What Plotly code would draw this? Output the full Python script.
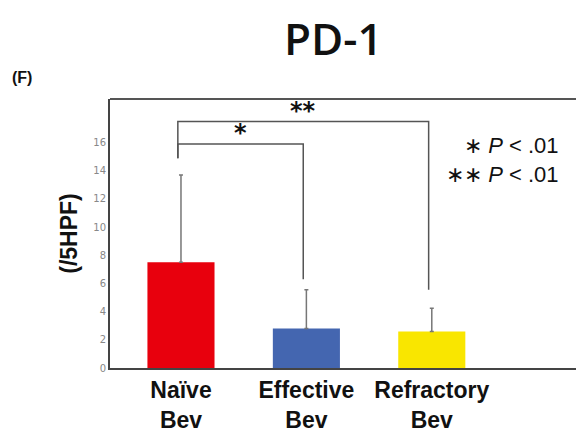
import plotly.graph_objects as go

categories = ["Naïve<br>Bev", "Effective<br>Bev", "Refractory<br>Bev"]
means = [7.5, 2.8, 2.6]
sd_upper = [6.2, 2.75, 1.65]
bar_colors = ["#e8000d", "#4466b0", "#f9e600"]
y_ticks = [0, 2, 4, 6, 8, 10, 12, 14, 16]

# significance brackets: (left idx, right idx, height, left bottom, right bottom, label)
brackets = [
    (0, 1, 15.9, 14.9, 6.3, "*"),
    (0, 2, 17.5, 14.9, 5.55, "**"),
]

x = list(range(len(categories)))

fig = go.Figure()
fig.add_trace(go.Bar(
    x=x, y=means, width=0.535,
    marker=dict(color=bar_colors, line=dict(width=0)),
    error_y=dict(type="data", symmetric=False, array=sd_upper,
                 arrayminus=[0] * len(means), color="#777777",
                 thickness=1.5, width=2),
    showlegend=False,
))

for li, ri, h, lb, rb, lab in brackets:
    xl, xr = li - 0.025, ri - 0.025
    fig.add_trace(go.Scatter(
        x=[xl, xl, xr, xr], y=[lb, h, h, rb], mode="lines",
        line=dict(color="#555555", width=1.5), showlegend=False,
        hoverinfo="skip"))
    fig.add_annotation(x=(xl + xr) / 2, y=h, text=f"<b>{lab}</b>",
                       showarrow=False, yanchor="bottom", yshift=-5,
                       font=dict(size=24, color="#111111", family="DejaVu Sans"))

fig.add_annotation(xref="paper", yref="paper", x=0.965, y=0.88,
                   text="∗ <i>P</i> < .01<br>∗∗ <i>P</i> < .01",
                   align="right", showarrow=False, xanchor="right", yanchor="top",
                   font=dict(size=22, color="#111111", family="Liberation Sans"))

fig.add_annotation(xref="paper", yref="paper", x=0.48, y=1.227,
                   text="PD-1", showarrow=False, xanchor="center", yanchor="middle",
                   font=dict(size=44, color="#111111", family="Open Sans", weight=600))
fig.add_annotation(xref="paper", yref="paper", x=-0.215, y=1.08,
                   text="<b>(F)</b>", showarrow=False, xanchor="left", yanchor="middle",
                   font=dict(size=16, color="#111111", family="Liberation Sans"))

fig.update_layout(
    width=577, height=431,
    margin=dict(l=110, r=1, t=99, b=63),
    paper_bgcolor="white", plot_bgcolor="white",
    xaxis=dict(range=[-0.566, 3.15], tickvals=x, ticktext=["<b>" + c + "</b>" for c in categories],
               showline=True, linecolor="#444444", linewidth=2, ticks="",
               showgrid=False, zeroline=False, automargin=False,
               tickfont=dict(size=23, color="#111111", family="Liberation Sans")),
    yaxis=dict(range=[0, 19.1], tickvals=y_ticks, showline=True, linecolor="#444444",
               linewidth=2, ticks="", showgrid=False, zeroline=False,
               mirror=False, automargin=False,
               tickfont=dict(size=10, color="#888888", family="DejaVu Sans"),
               title=dict(text="<b>(/5HPF)</b>", standoff=9,
                          font=dict(size=23, color="#111111", family="Liberation Sans"))),
    shapes=[dict(type="line", xref="paper", yref="paper", x0=0, x1=1, y0=1, y1=1,
                 line=dict(color="#555555", width=2))],
)

fig.write_html("out.html", config={"displayModeBar": False},
               post_script="document.body.style.margin='0';")
